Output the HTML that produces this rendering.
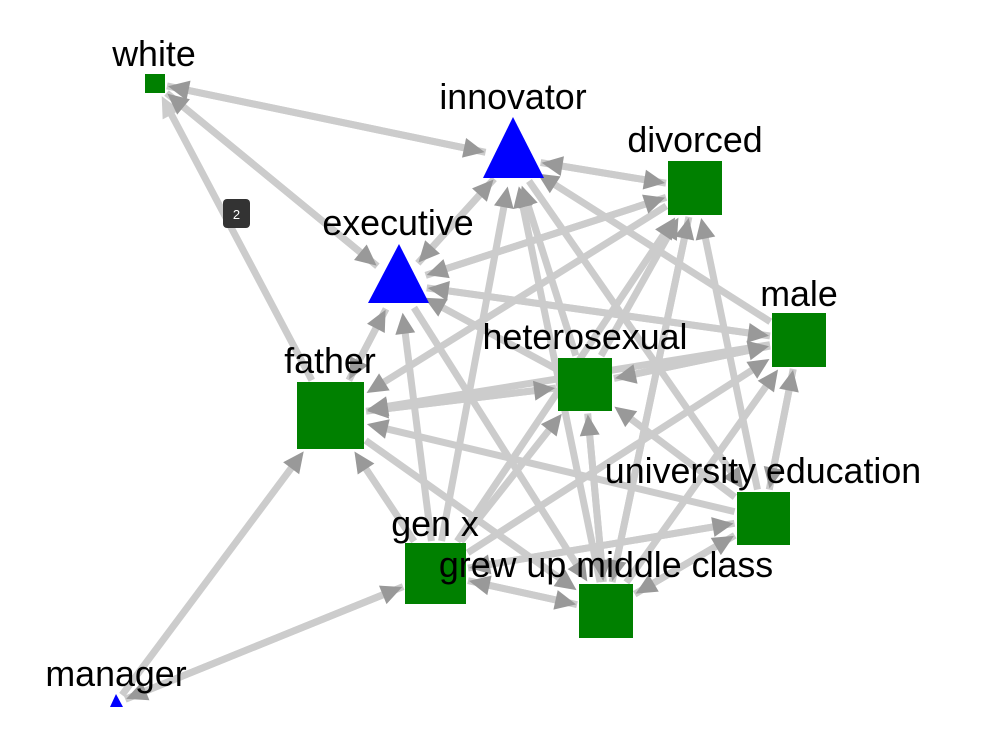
<!DOCTYPE html>
<html><head><meta charset="utf-8">
<style>
html,body{margin:0;padding:0;background:#fff;}
svg{display:block;}
text{font-family:"Liberation Sans",Arial,sans-serif;font-size:35.8px;fill:#000;text-anchor:middle;}
</style></head>
<body>
<svg id="s" width="987" height="748" viewBox="0 0 987 748" xmlns="http://www.w3.org/2000/svg">
<g id="edges"></g>
<g id="heads"></g>
<g id="nodes">
<rect x="145" y="74" width="20" height="19" fill="#008000"/>
<polygon points="513,117 544,178 483,178" fill="#0000ff"/>
<rect x="668" y="161" width="54" height="54" fill="#008000"/>
<polygon points="399,244 429,303 368,303" fill="#0000ff"/>
<rect x="772" y="313" width="54" height="54" fill="#008000"/>
<rect x="558" y="358" width="54" height="53" fill="#008000"/>
<rect x="297" y="382" width="67" height="67" fill="#008000"/>
<rect x="737" y="492" width="53" height="53" fill="#008000"/>
<rect x="405" y="543" width="61" height="61" fill="#008000"/>
<rect x="579" y="584" width="54" height="54" fill="#008000"/>
<polygon points="116,694 123,707 110,707" fill="#0000ff"/>
</g>
<rect x="223" y="199" width="27" height="29" rx="4" fill="#333"/>
<text x="236.5" y="219" style="font-size:13px;fill:#fff">2</text>
<g>
<text x="154" y="66">white</text>
<text x="513" y="109">innovator</text>
<text x="695" y="152">divorced</text>
<text x="398" y="235">executive</text>
<text x="799" y="306">male</text>
<text x="585" y="349">heterosexual</text>
<text x="330" y="373">father</text>
<text x="763" y="483">university education</text>
<text x="435" y="536">gen x</text>
<text x="606" y="577">grew up middle class</text>
<text x="116" y="686">manager</text>
</g>
</svg>
<script>
var N={
W:{x:155,y:83.5,t:'s',h:10},
I:{x:513,y:158,t:'c',h:26},
D:{x:695,y:188,t:'s',h:27},
E:{x:399,y:284,t:'c',h:26},
M:{x:799,y:340,t:'s',h:27},
H:{x:585,y:384.5,t:'s',h:27},
F:{x:330.5,y:415.5,t:'s',h:33.5},
U:{x:763.5,y:518.5,t:'s',h:27},
G:{x:435.5,y:573.5,t:'s',h:30.5},
C:{x:606,y:611,t:'s',h:27},
Mg:{x:116,y:703,t:'c',h:8}
};
var E=[
['W','I'],['I','W'],['F','W',1],['W','E'],['E','W'],
['I','D'],['D','I'],['E','I'],['I','E'],['D','E'],['E','D'],
['M','E'],['E','M'],['H','I'],['H','E'],['H','F'],['F','H'],
['M','H'],['H','M'],['H','D'],['U','H'],['F','E'],['E','F'],
['G','E'],['G','I'],['G','F'],['G','H'],['G','D'],['G','M'],['G','U'],
['G','C'],['C','G'],['C','I'],['C','H'],['C','D'],['C','M'],['C','U'],['U','C'],
['E','C'],['U','F'],['U','D'],['U','M'],['M','U'],['U','G'],['M','F'],['M','I'],
['Mg','F'],['Mg','G'],['G','Mg'],['I','U'],['D','F'],['F','C'],['H','C'],['D','C']
];
function bd(n,dx,dy){var L=Math.hypot(dx,dy);
 if(n.t=='c')return n.h/L;
 return n.h/Math.max(Math.abs(dx),Math.abs(dy));}
var ns='http://www.w3.org/2000/svg',ge=document.getElementById('edges'),gh=document.getElementById('heads');
E.forEach(function(e){var a=N[e[0]],b=N[e[1]];var dx=b.x-a.x,dy=b.y-a.y,L=Math.hypot(dx,dy);
 var ux=dx/L,uy=dy/L;
 var t1=bd(a,dx,dy),t2=bd(b,-dx,-dy);
 var sx=a.x+dx*t1+ux*2,sy=a.y+dy*t1+uy*2;
 var tx=b.x-dx*t2-ux*3,ty=b.y-dy*t2-uy*3;
 var al=21,aw=10;
 var ex=tx-ux*al,ey=ty-uy*al;
 var l=document.createElementNS(ns,'line');
 l.setAttribute('x1',sx);l.setAttribute('y1',sy);l.setAttribute('x2',ex+ux*2);l.setAttribute('y2',ey+uy*2);
 l.setAttribute('stroke','#cccccc');l.setAttribute('stroke-width','7');ge.appendChild(l);
 var p=document.createElementNS(ns,'polygon');
 p.setAttribute('points',tx+','+ty+' '+(ex-uy*aw)+','+(ey+ux*aw)+' '+(ex+uy*aw)+','+(ey-ux*aw));
 p.setAttribute('fill',e[2]?'#cccccc':'#999999');gh.appendChild(p);
});
</script>
</body></html>
